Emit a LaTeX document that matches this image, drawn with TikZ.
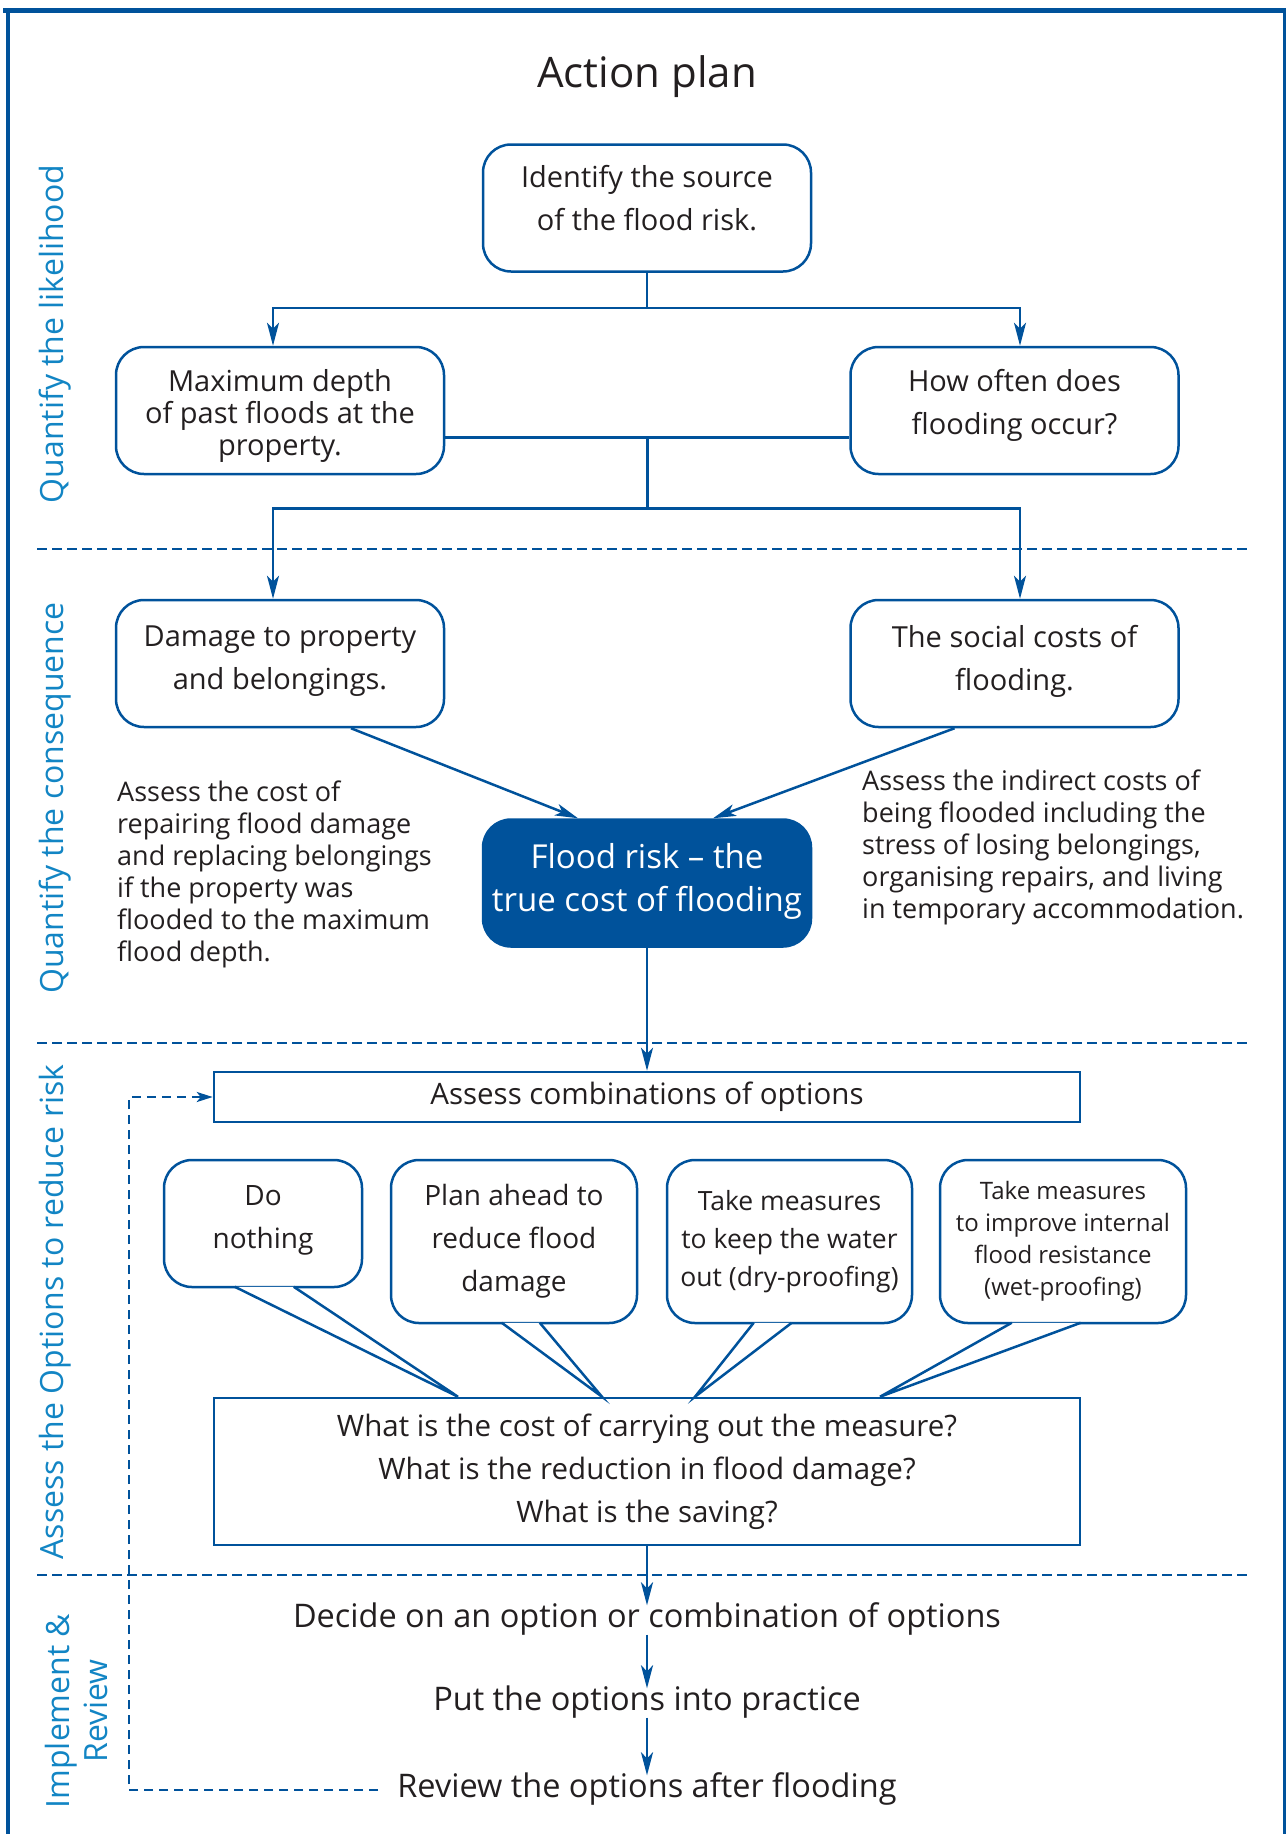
\documentclass[tikz,border=0pt]{standalone}
\usepackage{fontspec}
\setmainfont{Open Sans}
\usetikzlibrary{arrows.meta}
\definecolor{planblue}{RGB}{0,82,155}
\definecolor{laneblue}{RGB}{18,133,196}
\definecolor{ink}{RGB}{35,31,32}

\begin{document}
\begin{tikzpicture}[x=1pt,y=-1pt,
    every node/.style={text=ink},
    conn/.style={draw=planblue,line width=2.5pt},
    arr/.style={conn,-{Stealth[length=23pt,width=12pt,inset=6pt]}},
    sep/.style={draw=planblue,line width=2.5pt,dash pattern=on 10pt off 5pt},
    back/.style={draw=planblue,line width=2.5pt,dash pattern=on 9pt off 6pt,-{Stealth[length=16pt,width=10pt,inset=4pt]}},
    stage/.style={rounded corners=28pt,draw=planblue,line width=2.5pt,minimum width=328pt,minimum height=127pt,align=center,font=\fontsize{29}{43}\selectfont},
    plain/.style={align=left,inner sep=0pt,anchor=north west,font=\fontsize{27}{32}\selectfont},
    frame/.style={draw=planblue,line width=2.5pt,minimum width=866pt,align=center,font=\fontsize{29.5}{43}\selectfont},
    bubble/.style={rounded corners=28pt,draw=planblue,line width=2.5pt,minimum height=163pt,align=center},
    tail/.style={conn,fill=white},
    action/.style={inner sep=0pt,text height=22pt,text depth=7pt,font=\fontsize{32.5}{36}\selectfont},
    lane/.style={rotate=90,text=laneblue,align=center,font=\fontsize{32}{38}\selectfont}]

    \useasboundingbox (0,0) rectangle (1286,1834);
    \draw[planblue,line width=5pt] (3,10.5) -- (1286,10.5);
    \draw[planblue,line width=4pt] (8,8) -- (8,1834);
    \draw[planblue,line width=3pt] (1284.5,8) -- (1284.5,1834);

    \node[font=\fontsize{42}{50}\selectfont] (title) at (647,77) {Action plan};

    \node[lane] (likely) at (55,334) {Quantify the likelihood};
    \node[lane] (conseq) at (55,798) {Quantify the consequence};
    \node[lane] (reduce) at (55,1312) {Assess the Options to reduce risk};
    \node[lane] (implement) at (76,1711) {Implement \&\\Review};

    \draw[sep] (37,549) -- (1250,549);
    \draw[sep] (37,1043) -- (1250,1043);
    \draw[sep] (37,1575) -- (1250,1575);

    \node[stage,text depth=21pt] (source) at (647,208) {Identify the source\\of the flood risk.};
    \node[stage,text height=96pt,font=\fontsize{29}{32}\selectfont] (depth) at (280,410.5) {Maximum depth\\of past floods at the\\property.};
    \node[stage,text depth=17pt] (often) at (1014.5,410.5) {How often does\\flooding occur?};
    \node[stage,text depth=11pt] (damage) at (280,663.5) {Damage to property\\and belongings.};
    \node[stage,text depth=11pt] (social) at (1014.5,663.5) {The social costs of\\flooding.};
    \node[stage,text depth=11pt,fill=planblue,text=white,font=\fontsize{33}{43}\selectfont] (risk) at (647,883) {Flood risk – the\\true cost of flooding};

    \node[plain] (repair) at (117,781) {Assess the cost of\\repairing flood damage\\and replacing belongings\\if the property was\\flooded to the maximum\\flood depth.};
    \node[plain] (indirect) at (862,770) {Assess the indirect costs of\\being flooded including the\\stress of losing belongings,\\organising repairs, and living\\in temporary accommodation.};

    \draw[conn] (source.south) -- (source |- 0,308) coordinate (split);
    \draw[arr] (split) -| ([xshift=-7pt]depth.north);
    \draw[arr] (split) -| ([xshift=5.5pt]often.north);
    \draw[conn] ([yshift=-27pt]depth.east) -- ([yshift=-27pt]often.west) coordinate[pos=0.5] (join);
    \draw[conn] (join) -- ++(0,71);
    \draw[arr] (join) ++(0,71) -| ([xshift=-7pt]damage.north);
    \draw[arr] (join) ++(0,71) -| ([xshift=5.5pt]social.north);
    \draw[arr] ([xshift=71pt]damage.south) -- ([xshift=-69pt]risk.north);
    \draw[arr] ([xshift=-60pt]social.south) -- ([xshift=66pt]risk.north);

    \node[frame,minimum height=50pt] (combine) at (647,1097) {Assess combinations of options};
    \draw[arr] (risk) -- (combine);

    \node[bubble,minimum width=198pt,minimum height=127pt,text depth=13pt,font=\fontsize{28}{43}\selectfont] (nothing) at (263,1223.5) {Do\\nothing};
    \node[bubble,minimum width=246pt,font=\fontsize{28}{43}\selectfont] (ahead) at (514,1241.5) {Plan ahead to\\reduce flood\\damage};
    \node[bubble,minimum width=245pt,font=\fontsize{26.5}{38}\selectfont] (dry) at (789.5,1241.5) {Take measures\\to keep the water\\out (dry-proofing)};
    \node[bubble,minimum width=246pt,font=\fontsize{24}{32}\selectfont] (wet) at (1063,1241.5) {Take measures\\to improve internal\\flood resistance\\(wet-proofing)};

    \node[frame,minimum height=147pt] (cost) at (647,1471.5) {What is the cost of carrying out the measure?\\What is the reduction in flood damage?\\What is the saving?};

    \filldraw[tail] ([shift={(72,-1.5)}]nothing.south west) -- (cost.north -| 458,0) -- ([shift={(131,-1.5)}]nothing.south west);
    \filldraw[tail] ([shift={(112,-1.5)}]ahead.south west) -- (cost.north -| 602,0) -- ([shift={(150,-1.5)}]ahead.south west);
    \filldraw[tail] ([shift={(88,-1.5)}]dry.south west) -- (cost.north -| 695,0) -- ([shift={(126,-1.5)}]dry.south west);
    \filldraw[tail] ([shift={(73,-1.5)}]wet.south west) -- (cost.north -| 880,0) -- ([shift={(142,-1.5)}]wet.south west);

    \node[action] (decide) at (647,1620) {Decide on an option or combination of options};
    \node[action] (practice) at (647,1703) {Put the options into practice};
    \node[action] (review) at (647,1790) {Review the options after flooding};
    \draw[arr] (cost) -- (decide);
    \draw[arr] (decide) -- (practice);
    \draw[arr] (practice) -- (review);

    \coordinate (loop) at (129,1097);
    \draw[back] ([xshift=-19pt]review.west) -| (loop) -- (combine.west);
\end{tikzpicture}
\end{document}
